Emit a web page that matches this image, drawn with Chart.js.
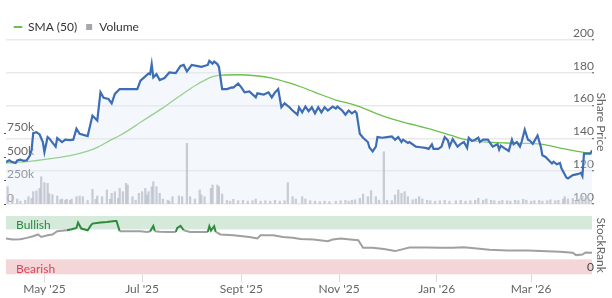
<!DOCTYPE html>
<html><head><meta charset="utf-8">
<script src="https://cdn.jsdelivr.net/npm/chart.js@4/dist/chart.umd.min.js"></script>
<style>
html,body{margin:0;padding:0;background:#fff;}
#wrap{position:relative;width:612px;height:298px;overflow:hidden;background:#fff;}
#top{position:absolute;left:0;top:0;}
#bot{position:absolute;left:0;top:206px;}
</style></head><body>
<div id="wrap"><canvas id="top" width="612" height="206"></canvas><canvas id="bot" width="612" height="92"></canvas></div>
<script>
// Day offsets are counted from this date
const startDate = '2025-04-07';
const lastDay = 366;

const monthTickDays = [24, 85, 147, 208, 269, 328];
const monthLabels = ["May '25", "Jul '25", "Sept '25", "Nov '25", "Jan '26", "Mar '26"];

const priceTicks = [100, 120, 140, 160, 180, 200];
const volumeTicks = [0, 250000, 500000, 750000];
const rankTicks = [0];

const priceDays = [0,2,4,6,7,9,11,13,15,16,17,19,21,23,24,26,27,31,32,35,37,40,42,44,46,51,54,57,59,61,64,66,68,71,82,84,87,89,90,91,92,94,96,99,102,106,109,111,113,116,119,122,126,127,129,130,132,133,135,138,141,142,145,147,149,152,156,157,161,164,166,168,170,172,174,177,179,182,183,185,187,189,191,193,195,197,199,201,204,206,207,210,212,214,216,218,219,221,223,226,227,229,231,232,235,238,241,243,245,247,248,251,252,256,259,262,264,266,267,270,272,274,276,277,279,282,284,286,288,289,291,293,295,296,298,301,302,304,307,308,309,311,314,316,317,319,321,322,324,326,327,329,332,334,335,337,339,341,342,344,346,347,350,351,354,357,359,360,361,363,365,366];
const priceValues = [125.6,126.7,125.5,125,126.5,127,126.3,126.7,129.7,133,143.2,143.8,142.4,137.8,131.7,140.8,140,135,140.2,137.8,139.3,139,139.2,145.9,142.8,141.4,153.9,150.9,168.1,164.7,164,161.4,167.1,170.1,170.1,175.2,177.8,179.6,179.2,185.3,177.2,179.2,175.6,176.8,180.2,179.8,184.2,184.8,180.8,184.8,184.2,183.6,184.8,187.3,185.6,186.8,185.3,183.6,170.1,170.1,171.1,171,173.5,171.1,168.1,168.7,165,167.5,166.7,168.1,165,168.1,170.1,159,161.4,159,157,154.5,159,155.9,159.4,156.6,159,155.3,159,155.9,159,157,159.4,158.2,159.4,157,154.5,157,155.3,156.6,155.3,142.8,140.4,137.8,134.4,132.1,135,140.8,140.4,140.8,141.2,139.2,140.8,137.8,139.2,137.2,137.8,135,134.6,134.2,133.6,136.4,133.6,133.6,135,140.8,138.8,135,139.6,135,136.7,137.8,134.2,140.4,138.4,139.2,140.4,137.8,139.2,139.2,137.8,135,136.4,133.2,135.6,134.2,132.3,139.2,136.4,137.8,135,137.8,145.3,139.2,138.8,136.7,141.8,135,129.7,128.7,126.7,124.7,125.8,124.2,125,121.6,116.2,115.6,117.6,118.2,119,117,130.7,130.7,130.7,132.7];

const smaDays = [0,15,28,40,51,57,65,71,76,84,90,98,108,118,129,135,145,156,166,176,184,193,206,218,231,243,256,264,278,287,299,312,324,335,345,356,364,366];
const smaValues = [125,126,127.7,129.5,132.2,134.5,138.8,141.8,144.6,149.8,153.6,158.6,165.5,172.1,177.6,178.6,178.8,178.2,176.8,174.1,171.5,168.1,163.4,160.3,155.3,151.3,147.9,145.9,141.8,139.2,137.8,137.2,137,136.4,134.4,132.3,131.2,131.5];

const volumeDays = [1,4,7,9,12,14,16,17,19,21,22,24,26,27,29,32,34,35,37,38,40,41,44,46,48,51,54,56,57,60,63,65,66,68,70,71,73,75,76,79,81,83,85,87,88,89,91,92,94,96,98,101,102,104,108,110,113,115,118,121,122,124,128,129,132,133,135,138,140,142,145,148,151,154,156,159,162,165,168,171,174,176,179,181,185,187,190,193,196,199,202,206,209,212,214,216,218,221,223,226,228,231,233,236,238,241,243,245,247,249,251,254,256,258,260,263,265,268,271,274,277,281,284,287,290,293,295,298,300,303,305,308,310,313,315,318,320,323,325,328,330,333,335,338,340,343,345,348,349,351,354,356,358,360,362,364,366];
const volumeValues = [184,85,53,30,40,78,60,131,140,167,290,227,220,110,100,85,45,53,40,50,40,53,78,85,78,40,156,50,85,78,149,50,114,131,60,167,131,220,202,78,40,114,131,167,96,131,184,237,184,114,53,40,30,78,85,78,646,78,53,149,96,78,167,202,202,184,106,40,30,50,35,40,30,35,53,30,35,30,40,30,35,227,78,53,78,53,35,30,25,30,25,30,35,40,30,40,45,60,106,78,142,78,40,556,40,35,96,149,114,131,78,45,53,78,53,40,35,30,35,40,30,35,40,30,35,40,60,40,53,40,35,30,40,35,30,40,35,50,40,30,35,40,30,35,45,35,40,53,78,53,60,40,53,85,60,53,40].map(v => v * 1000);

const rankDays = [0,4,9,13,17,20,22,26,29,32,38,41,44,45,47,51,53,54,59,63,68,69,71,76,84,88,90,92,93,96,101,106,107,109,111,115,121,126,127,128,130,131,134,142,152,157,159,167,173,179,184,192,201,204,209,215,220,223,229,236,243,248,252,263,271,279,286,294,302,313,326,334,346,354,356,360,362,366];
const rankValues = [61.4,59.7,60,62.5,65.4,68.3,64,67,68.3,74,75.6,77.3,79.5,88.7,78.5,75.6,84,87,88.7,89.8,91.5,91.5,74,74,74,72.7,73.5,83,74,73,72.7,72.7,79.5,83,75.6,72.7,72.7,72.7,82.4,75,82.4,72.7,68.3,67,64,61.4,67,67,64,62.5,60.5,59.7,56.8,59.7,61.4,59.7,58.5,45.4,45.4,43.2,39.8,43.2,46,46,45.4,45.4,46.6,44.4,42,41,41,39.8,38.6,36.9,32.9,34,37.5,36.9];

const bullishFrom = 77;   // StockRank band limits
const bearishTo = 25.6;

const pair = (xs, ys) => xs.map((x, i) => ({x: x, y: ys[i]}));

Chart.defaults.font.family = 'Lato, "Open Sans", sans-serif';
Chart.defaults.font.size = 12;
Chart.defaults.color = '#5f5f5f';

const smaColor = '#6cc04e';
const volColor = 'rgba(160,162,170,0.75)';
const priceColor = '#3d6db5';
const axisTextColor = '#666';

function fixWidth(w) {
  return function (scale) { scale.width = w; scale.paddingTop = 0; scale.paddingBottom = 0; };
}

new Chart(document.getElementById('top'), {
  type: 'line',
  data: {
    datasets: [
      { label: 'SMA (50)', data: pair(smaDays, smaValues), yAxisID: 'price', borderColor: smaColor,
        borderWidth: 1.3, pointRadius: 0, cubicInterpolationMode: 'monotone', fill: false, order: 2 },
      { type: 'bar', label: 'Volume', data: pair(volumeDays, volumeValues), yAxisID: 'vol',
        backgroundColor: volColor, barThickness: 1.6, order: 3 },
      { label: 'Share Price', data: pair(priceDays, priceValues), yAxisID: 'price', borderColor: priceColor,
        borderWidth: 2.2, pointRadius: 0, tension: 0, fill: 'start', backgroundColor: 'rgba(226,233,246,0.38)', order: 1 }
    ]
  },
  options: {
    responsive: false, animation: false, events: [],
    layout: { padding: { top: 13, left: 6, right: 0, bottom: 2 } },
    plugins: {
      tooltip: { enabled: false },
      legend: {
        position: 'top', align: 'start', maxHeight: 27,
        labels: {
          usePointStyle: true, boxWidth: 8, boxHeight: 6, padding: 8, color: '#333',
          font: { size: 12 },
          generateLabels: () => [
            { text: 'SMA (50)', pointStyle: 'line', strokeStyle: smaColor, fillStyle: smaColor, lineWidth: 2, fontColor: '#333', datasetIndex: 0 },
            { text: 'Volume', pointStyle: 'rect', strokeStyle: volColor, fillStyle: '#a5a7ae', lineWidth: 0, fontColor: '#333', datasetIndex: 1 }
          ]
        }
      }
    },
    scales: {
      x: { type: 'linear', min: 0, max: lastDay, offset: false, display: false },
      vol: {
        type: 'linear', position: 'left', min: 0, max: 1745000,
        afterFit: fixWidth(0),
        afterBuildTicks: s => { s.ticks = volumeTicks.map(v => ({ value: v })); },
        border: { display: false },
        grid: { drawOnChartArea: false, drawTicks: true, tickLength: 2, tickColor: '#555', tickWidth: 1.2 },
        ticks: { mirror: true, padding: 1, labelOffset: -6, color: axisTextColor,
          callback: v => v === 0 ? '0' : (v / 1000) + 'k' }
      },
      price: {
        type: 'linear', position: 'right', min: 100, max: 200,
        afterFit: fixWidth(20),
        afterBuildTicks: s => { s.ticks = priceTicks.map(v => ({ value: v })); },
        border: { display: false },
        grid: { color: '#e9e9e9', lineWidth: 1.5, drawTicks: true, tickLength: 2, tickColor: '#555', tickWidth: 1.2 },
        ticks: { mirror: true, padding: 2, labelOffset: -7, color: axisTextColor },
        title: { display: true, text: 'Share Price', color: axisTextColor, font: { size: 12 }, padding: { top: 4, bottom: 0 } }
      }
    }
  }
});

const bandsPlugin = {
  id: 'bands',
  beforeDraw(chart) {
    const { ctx, chartArea: a, scales: { y } } = chart;
    const yTop = y.getPixelForValue(100), yBull = y.getPixelForValue(bullishFrom);
    const yBear = y.getPixelForValue(bearishTo), yZero = y.getPixelForValue(0);
    ctx.save();
    ctx.fillStyle = '#d5eadb';
    ctx.fillRect(a.left, yTop, a.right - a.left, yBull - yTop);
    ctx.fillStyle = '#f5d6d8';
    ctx.fillRect(a.left, yBear, a.right - a.left, yZero - yBear);
    ctx.font = '12px Lato, "Open Sans", sans-serif';
    ctx.textBaseline = 'alphabetic';
    ctx.textAlign = 'left';
    ctx.fillStyle = '#2f8a45';
    ctx.fillText('Bullish', a.left + 10, yBull);
    ctx.fillStyle = '#d9465c';
    ctx.fillText('Bearish', a.left + 10, yZero - 1.5);
    ctx.restore();
  }
};

const bullGreen = '#2e8b3e';
const rankGrey = '#a0a0a0';

new Chart(document.getElementById('bot'), {
  type: 'line',
  data: {
    datasets: [
      { label: 'StockRank', data: pair(rankDays, rankValues), borderColor: rankGrey, borderWidth: 2,
        pointRadius: 0, tension: 0, fill: false,
        segment: { borderColor: c => (c.p0.parsed.y > bullishFrom || c.p1.parsed.y > bullishFrom) ? bullGreen : rankGrey } }
    ]
  },
  options: {
    responsive: false, animation: false, events: [],
    layout: { padding: { top: 10, left: 6, right: 0, bottom: 1.3 } },
    plugins: { legend: { display: false }, tooltip: { enabled: false } },
    scales: {
      x: {
        type: 'linear', min: 0, max: lastDay, offset: false,
        afterBuildTicks: s => { s.ticks = monthTickDays.map(v => ({ value: v })); },
        afterFit: s => { s.paddingLeft = 0; s.paddingRight = 0; },
        border: { display: false },
        grid: { drawOnChartArea: false, drawTicks: true, tickLength: 8, tickColor: '#dcdcdc', tickWidth: 1 },
        ticks: { padding: 0, autoSkip: false, maxRotation: 0, color: axisTextColor,
          callback: v => monthLabels[monthTickDays.indexOf(v)] }
      },
      y: {
        type: 'linear', position: 'right', min: 0, max: 100,
        afterFit: fixWidth(20),
        afterBuildTicks: s => { s.ticks = rankTicks.map(v => ({ value: v })); },
        border: { display: false },
        grid: { display: false },
        ticks: { mirror: true, padding: 2, labelOffset: -7, color: '#444' },
        title: { display: true, text: 'StockRank', color: axisTextColor, font: { size: 12 }, padding: { top: 4, bottom: 0 } }
      }
    }
  },
  plugins: [bandsPlugin]
});
</script>
</body></html>
